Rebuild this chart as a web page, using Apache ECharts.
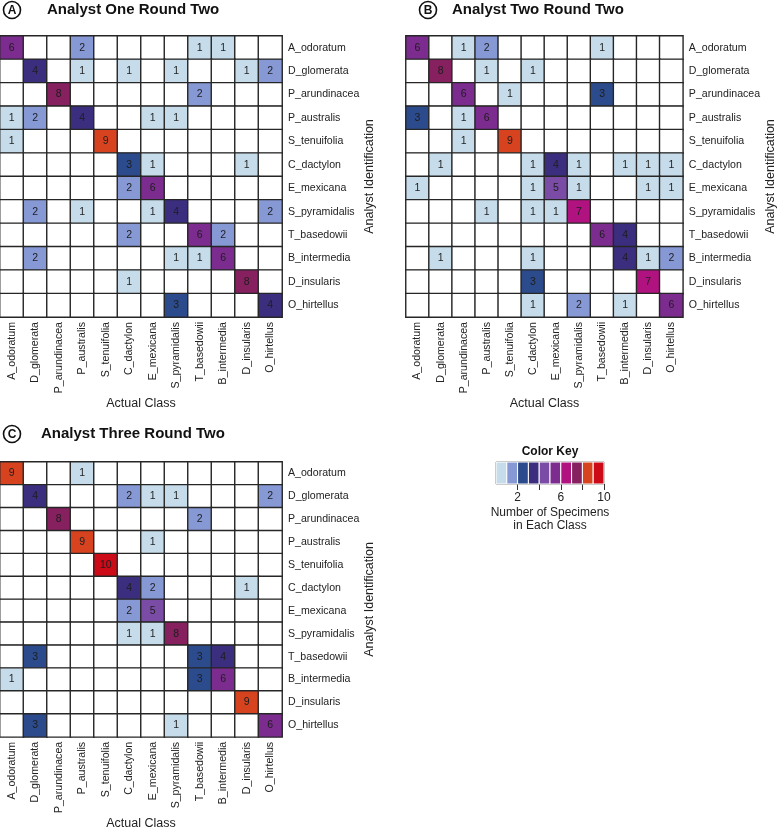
<!DOCTYPE html>
<html>
<head>
<meta charset="utf-8">
<script src="https://cdn.jsdelivr.net/npm/echarts@6/dist/echarts.min.js"></script>
<style>
html,body{margin:0;padding:0;background:#fff;}
#chart{width:778px;height:831px;}
</style>
</head>
<body>
<div id="chart"></div>
<script>
const categories = ['A_odoratum','D_glomerata','P_arundinacea','P_australis','S_tenuifolia','C_dactylon','E_mexicana','S_pyramidalis','T_basedowii','B_intermedia','D_insularis','O_hirtellus'];

// rows = analyst identification, columns = actual class
const analystOne = [
  [6,0,0,2,0,0,0,0,1,1,0,0],
  [0,4,0,1,0,1,0,1,0,0,1,2],
  [0,0,8,0,0,0,0,0,2,0,0,0],
  [1,2,0,4,0,0,1,1,0,0,0,0],
  [1,0,0,0,9,0,0,0,0,0,0,0],
  [0,0,0,0,0,3,1,0,0,0,1,0],
  [0,0,0,0,0,2,6,0,0,0,0,0],
  [0,2,0,1,0,0,1,4,0,0,0,2],
  [0,0,0,0,0,2,0,0,6,2,0,0],
  [0,2,0,0,0,0,0,1,1,6,0,0],
  [0,0,0,0,0,1,0,0,0,0,8,0],
  [0,0,0,0,0,0,0,3,0,0,0,4]
];
const analystTwo = [
  [6,0,1,2,0,0,0,0,1,0,0,0],
  [0,8,0,1,0,1,0,0,0,0,0,0],
  [0,0,6,0,1,0,0,0,3,0,0,0],
  [3,0,1,6,0,0,0,0,0,0,0,0],
  [0,0,1,0,9,0,0,0,0,0,0,0],
  [0,1,0,0,0,1,4,1,0,1,1,1],
  [1,0,0,0,0,1,5,1,0,0,1,1],
  [0,0,0,1,0,1,1,7,0,0,0,0],
  [0,0,0,0,0,0,0,0,6,4,0,0],
  [0,1,0,0,0,1,0,0,0,4,1,2],
  [0,0,0,0,0,3,0,0,0,0,7,0],
  [0,0,0,0,0,1,0,2,0,1,0,6]
];
const analystThree = [
  [9,0,0,1,0,0,0,0,0,0,0,0],
  [0,4,0,0,0,2,1,1,0,0,0,2],
  [0,0,8,0,0,0,0,0,2,0,0,0],
  [0,0,0,9,0,0,1,0,0,0,0,0],
  [0,0,0,0,10,0,0,0,0,0,0,0],
  [0,0,0,0,0,4,2,0,0,0,1,0],
  [0,0,0,0,0,2,5,0,0,0,0,0],
  [0,0,0,0,0,1,1,8,0,0,0,0],
  [0,3,0,0,0,0,0,0,3,4,0,0],
  [1,0,0,0,0,0,0,0,3,6,0,0],
  [0,0,0,0,0,0,0,0,0,0,9,0],
  [0,3,0,0,0,0,0,1,0,0,0,6]
];

const panelTitles = ['Analyst One Round Two','Analyst Two Round Two','Analyst Three Round Two'];
const panelLetters = ['A','B','C'];
const keyLevels = [1,2,3,4,5,6,7,8,9,10];
const keyColors = ['#c6dcea','#8799d5','#2c4b8c','#3b2e7e','#7a4ca6','#7c2b8f','#b0127f','#86205f','#d8431f','#cc0a18'];
const keyTickValues = [2,4,6,8,10];
const keyLabelValues = [2,6,10];

const matrices = [analystOne, analystTwo, analystThree];
const grids = [
  {left:0, top:36, width:282, height:281},
  {left:406, top:36, width:282, height:281},
  {left:0, top:462, width:282, height:281}
];

function toData(m){
  const out = [];
  m.forEach((row, r) => row.forEach((v, c) => out.push([c, r, v])));
  return out;
}

const FONT = 'Liberation Sans, Arial, sans-serif';
const labelColor = '#222';
const xAxes = [], yAxes = [], series = [], gridList = [];
grids.forEach((g, i) => {
  gridList.push(Object.assign({containLabel:false}, g));
  xAxes.push({
    type:'category', gridIndex:i, data:categories, position:'bottom',
    axisLine:{show:false}, axisTick:{show:false}, splitLine:{show:false},
    axisLabel:{rotate:90, fontSize:10.6, color:labelColor, margin:5, fontFamily:FONT, interval:0},
    name:'Actual Class', nameLocation:'middle', nameGap:78,
    nameTextStyle:{fontSize:12.5, color:labelColor, fontFamily:FONT}
  });
  yAxes.push({
    type:'category', gridIndex:i, data:categories, inverse:true, position:'right',
    axisLine:{show:false}, axisTick:{show:false}, splitLine:{show:false},
    axisLabel:{fontSize:10.6, color:labelColor, margin:6, fontFamily:FONT, interval:0},
    name:'Analyst Identification', nameLocation:'middle', nameRotate:90, nameGap:73,
    nameTextStyle:{fontSize:12.5, color:labelColor, fontFamily:FONT}
  });
  series.push({
    type:'heatmap', xAxisIndex:i, yAxisIndex:i, data:toData(matrices[i]),
    itemStyle:{borderColor:'#262626', borderWidth:1.4},
    label:{show:true, fontSize:10.5, color:'#1e1e1e', fontFamily:FONT,
      formatter: p => p.value[2] > 0 ? String(p.value[2]) : ''},
    emphasis:{disabled:true}
  });
});

// Color key grid
gridList.push({left:496, top:462, width:108, height:22, show:true, borderColor:'#333', borderWidth:1, backgroundColor:'transparent'});
xAxes.push({
  type:'value', gridIndex:3, min:0, max:10, interval:2,
  axisLine:{show:false}, splitLine:{show:false},
  axisTick:{show:true, length:6, lineStyle:{color:'#333'}, customValues:keyTickValues},
  axisLabel:{fontSize:12, color:labelColor, margin:8, fontFamily:FONT, customValues:keyLabelValues}
});
yAxes.push({type:'category', gridIndex:3, data:['k'], show:false});
series.push({
  type:'custom', xAxisIndex:3, yAxisIndex:3,
  data: keyLevels.map(v => [v, 0]),
  renderItem: (params, api) => {
    const v = api.value(0);
    const p0 = api.coord([v-1, 0]);
    const p1 = api.coord([v, 0]);
    const h = api.size([0, 1])[1];
    return {type:'rect', shape:{x:p0[0], y:p0[1]-h/2, width:p1[0]-p0[0], height:h},
      style:{fill:keyColors[v-1], stroke:'#fff', lineWidth:1}};
  },
  silent:true
});

const pieces = [{value:0, color:'#ffffff'}].concat(keyLevels.map((v, i) => ({value:v, color:keyColors[i]})));

const titlePos = [
  {cx:12, cy:10, tx:47, ty:10},
  {cx:428, cy:10, tx:452, ty:10},
  {cx:12, cy:434, tx:41, ty:434}
];
const graphics = [];
titlePos.forEach((t, i) => {
  graphics.push({type:'circle', shape:{cx:t.cx, cy:t.cy, r:8.5}, style:{fill:'#fff', stroke:'#111', lineWidth:1.6}});
  graphics.push({type:'text', x:t.cx, y:t.cy+0.5, style:{text:panelLetters[i], font:'bold 12px Liberation Sans, Arial, sans-serif', fill:'#111', align:'center', verticalAlign:'middle'}});
  graphics.push({type:'text', x:t.tx, y:t.ty, style:{text:panelTitles[i], font:'bold 15px Liberation Sans, Arial, sans-serif', fill:'#111', align:'left', verticalAlign:'middle'}});
});
graphics.push({type:'text', x:550, y:452, style:{text:'Color Key', font:'bold 12px Liberation Sans, Arial, sans-serif', fill:'#111', align:'center', verticalAlign:'middle'}});
graphics.push({type:'text', x:550, y:513, style:{text:'Number of Specimens', font:'12px Liberation Sans, Arial, sans-serif', fill:'#222', align:'center', verticalAlign:'middle'}});
graphics.push({type:'text', x:550, y:526, style:{text:'in Each Class', font:'12px Liberation Sans, Arial, sans-serif', fill:'#222', align:'center', verticalAlign:'middle'}});

const chart = echarts.init(document.getElementById('chart'), null, {renderer:'canvas'});
chart.setOption({
  animation:false,
  backgroundColor:'#fff',
  grid:gridList,
  xAxis:xAxes,
  yAxis:yAxes,
  visualMap:{type:'piecewise', show:false, seriesIndex:[0,1,2], dimension:2, pieces:pieces},
  series:series,
  graphic:graphics
});
</script>
</body>
</html>
